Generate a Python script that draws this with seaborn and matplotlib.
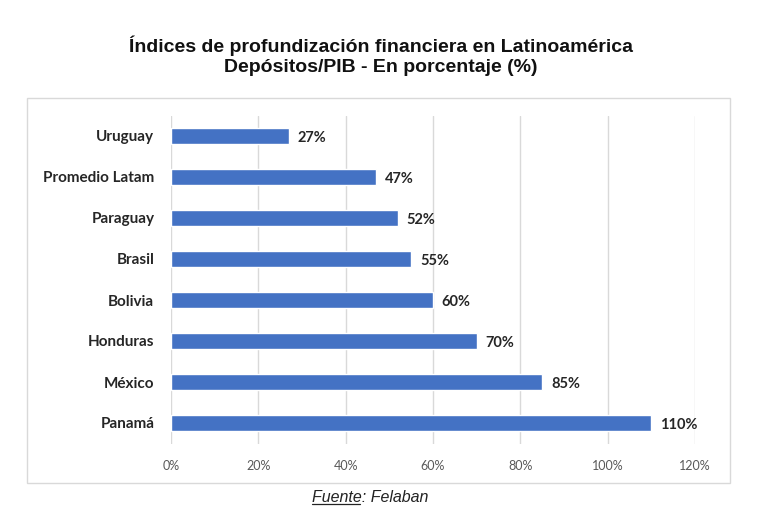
import matplotlib
matplotlib.use("Agg")
import matplotlib.pyplot as plt
import seaborn as sns
import pandas as pd
from matplotlib.patches import Rectangle
from matplotlib.lines import Line2D

countries = ["Uruguay", "Promedio Latam", "Paraguay", "Brasil", "Bolivia",
             "Honduras", "México", "Panamá"]
values = [27, 47, 52, 55, 60, 70, 85, 110]
xticks = [0, 20, 40, 60, 80, 100, 120]
xtick_labels = ["0%", "20%", "40%", "60%", "80%", "100%", "120%"]
title = "Índices de profundización financiera en Latinoamérica\nDepósitos/PIB - En porcentaje (%)"

df = pd.DataFrame({"pais": countries, "valor": values})

sns.set_style("white")
plt.rcParams["font.family"] = ["Lato", "DejaVu Sans"]

fig = plt.figure(figsize=(7.7, 5.25), dpi=100)
fig.patch.set_facecolor("white")

# chart box
fig.patches.append(Rectangle((27/770, 1-483/525), 703/770, 385/525,
                             transform=fig.transFigure, fill=False,
                             edgecolor="#d9d9d9", linewidth=1.0))

ax = fig.add_axes([171/770, 1-443.5/525, 524/770, 328/525])
sns.barplot(data=df, y="pais", x="valor", orient="h", color="#4472C4",
            width=0.38, saturation=1, ax=ax, zorder=3)

ax.set_xlim(0, 120)
ax.set_xticks(xticks)
ax.set_xticklabels(xtick_labels, color="#595959", fontsize=9)
ax.grid(axis="x", color="#d9d9d9", linewidth=1, zorder=0)
ax.set_axisbelow(True)
for s in ax.spines.values():
    s.set_visible(False)
ax.set_xlabel("")
ax.set_ylabel("")
ax.tick_params(axis="both", length=0)
ax.tick_params(axis="x", pad=12)
ax.tick_params(axis="y", pad=12)
for lab in ax.get_yticklabels():
    lab.set_fontweight("bold")
    lab.set_fontsize(11)
    lab.set_color("#262626")

for i, v in enumerate(values):
    ax.text(v + 2, i + 0.04, f"{v}%", va="center", ha="left", fontsize=10.5,
            fontweight="bold", color="#262626")

fig.text(381/770, 1-56/525, title, ha="center", va="center",
         fontsize=14, fontweight="bold", family=["Liberation Sans", "DejaVu Sans"],
         linespacing=1.25, color="#111111")

# Source line with underlined "Fuente"
src_font = dict(fontsize=11.5, style="italic",
                family=["Liberation Sans", "DejaVu Sans"], color="#222222")
x0 = 312 / 770
ysrc = 1 - 497 / 525
t_full = fig.text(x0, ysrc, "Fuente: Felaban", ha="left", va="center", **src_font)
t_word = fig.text(x0, ysrc, "Fuente", ha="left", va="center", alpha=0, **src_font)
fig.canvas.draw()
r = fig.canvas.get_renderer()
bb = t_word.get_window_extent(r)
bf = t_full.get_window_extent(r)
yline = (bf.y0 + 1) / 525
fig.add_artist(Line2D([bb.x0/770, (bb.x1 - 2)/770], [yline, yline],
                      transform=fig.transFigure, color="#222222", linewidth=0.9))
t_word.remove()

fig.savefig("out.png", dpi=100, facecolor="white")
